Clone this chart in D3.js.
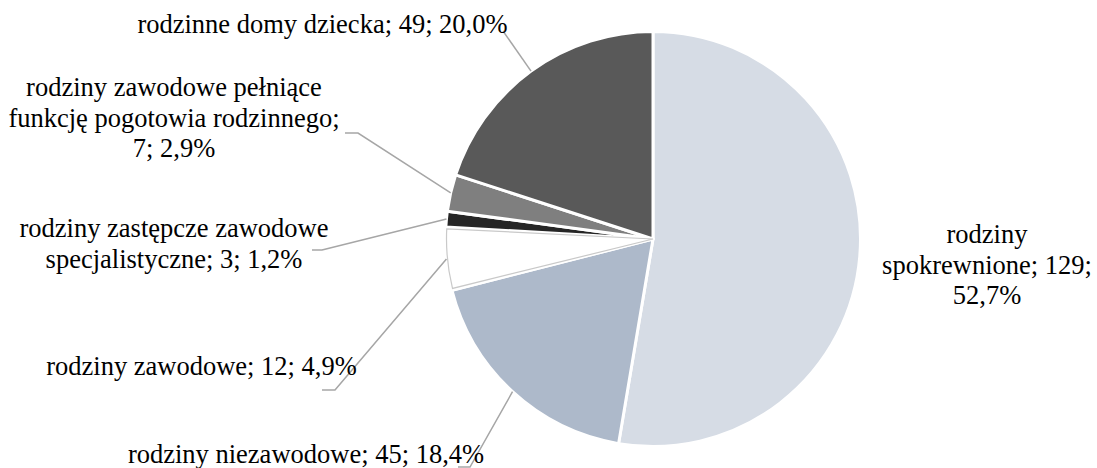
<!DOCTYPE html>
<html>
<head>
<meta charset="utf-8">
<script src="https://cdn.jsdelivr.net/npm/d3@7/dist/d3.min.js"></script>
<style>
  html, body { margin: 0; padding: 0; background: #ffffff; }
  svg { display: block; }
</style>
</head>
<body>
<svg id="chart" width="1097" height="468"></svg>
<script>
// ---- data ----
const categories = [
  "rodziny spokrewnione",
  "rodziny niezawodowe",
  "rodziny zawodowe",
  "rodziny zastępcze zawodowe specjalistyczne",
  "rodziny zawodowe pełniące funkcję pogotowia rodzinnego",
  "rodzinne domy dziecka"
];
const values = [129, 45, 12, 3, 7, 49];
const percentLabels = ["52,7%", "18,4%", "4,9%", "1,2%", "2,9%", "20,0%"];
const labelLines = [
  ["rodziny", "spokrewnione; 129;", "52,7%"],
  ["rodziny niezawodowe; 45; 18,4%"],
  ["rodziny zawodowe; 12; 4,9%"],
  ["rodziny zastępcze zawodowe", "specjalistyczne; 3; 1,2%"],
  ["rodziny zawodowe pełniące", "funkcję pogotowia rodzinnego;", "7; 2,9%"],
  ["rodzinne domy dziecka; 49; 20,0%"]
];
const colors = ["#d6dce5", "#adb9ca", "#ffffff", "#262626", "#7f7f7f", "#595959"];

// ---- layout ----
const cx = 653, cy = 239, r = 207.5;
const fontSize = 26.5;
const lineGap = 30.5;
const fontFamily = "Liberation Serif";
// label anchor: centre x, first baseline y, leader elbow points (label side)
const labelLayout = [
  { x: 987, y: 243, leader: null },
  { x: 306, y: 463, leader: [[470, 467], [458, 467]] },
  { x: 201.5, y: 375, leader: [[335, 390], [322, 390]] },
  { x: 174, y: 237, leader: [[322, 250], [312, 250]] },
  { x: 174, y: 96, leader: [[358, 133], [345, 133]] },
  { x: 322.5, y: 33, leader: [[503, 31]] }
];

const svg = d3.select("#chart");
const g = svg.append("g").attr("transform", `translate(${cx},${cy})`);

const pie = d3.pie().sort(null).value(d => d)(values);
const arc = d3.arc().innerRadius(0).outerRadius(r);

g.selectAll("path.slice")
  .data(pie)
  .join("path")
  .attr("class", "slice")
  .attr("d", arc)
  .attr("fill", (d, i) => colors[i])
  .attr("stroke", "#ffffff")
  .attr("stroke-width", 3)
  .attr("stroke-linejoin", "round");

// light outline for the white slice
const outline = d3.arc().innerRadius(0).outerRadius(r - 1).padRadius(r).padAngle(3.5 / r);
g.selectAll("path.outline")
  .data(pie.filter((d, i) => colors[i] === "#ffffff"))
  .join("path")
  .attr("class", "outline")
  .attr("d", outline)
  .attr("fill", "none")
  .attr("stroke", "#c9c9c9")
  .attr("stroke-width", 1.2);

// leader lines
pie.forEach((d, i) => {
  const L = labelLayout[i];
  if (!L.leader) return;
  const mid = (d.startAngle + d.endAngle) / 2;
  const start = [cx + r * Math.sin(mid), cy - r * Math.cos(mid)];
  const pts = [start].concat(L.leader);
  svg.append("path")
    .attr("d", d3.line()(pts))
    .attr("fill", "none")
    .attr("stroke", "#a6a6a6")
    .attr("stroke-width", 1.5);
});

// labels
labelLines.forEach((lines, i) => {
  const L = labelLayout[i];
  const t = svg.append("text")
    .attr("text-anchor", "middle")
    .attr("font-family", fontFamily)
    .attr("font-size", fontSize)
    .attr("fill", "#000");
  lines.forEach((ln, j) => {
    t.append("tspan").attr("x", L.x).attr("y", L.y + j * lineGap).text(ln);
  });
});
</script>
</body>
</html>
